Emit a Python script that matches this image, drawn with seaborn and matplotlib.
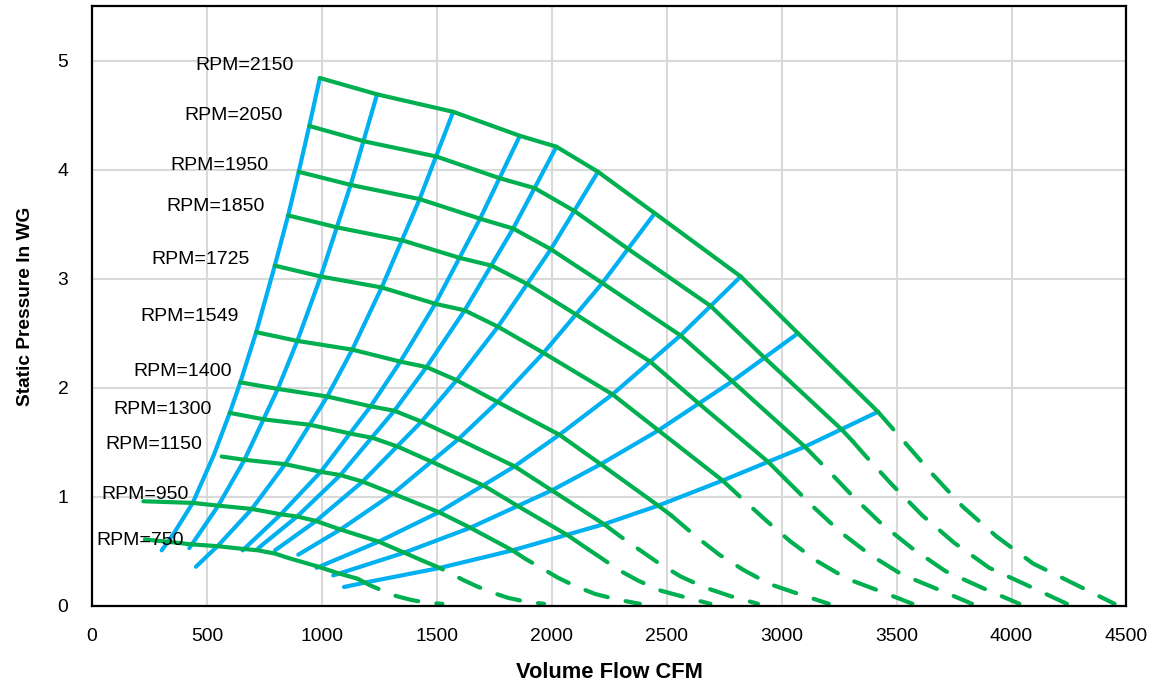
import pandas as pd
import matplotlib
matplotlib.use("Agg")
import matplotlib.pyplot as plt
import seaborn as sns
from matplotlib import font_manager

# fan curves, solid part (CFM / in WG)
cfm_2150 = [991, 1240, 1571, 1861, 2020, 2201, 2448, 2822, 3071, 3419]
wg_2150 = [4.84, 4.69, 4.53, 4.31, 4.21, 3.98, 3.60, 3.02, 2.50, 1.78]
cfm_2050 = [945, 1182, 1498, 1775, 1926, 2099, 2334, 2691, 2928, 3260, 3309]
wg_2050 = [4.40, 4.26, 4.12, 3.92, 3.83, 3.62, 3.27, 2.75, 2.27, 1.62, 1.51]
cfm_1950 = [899, 1125, 1425, 1688, 1832, 1996, 2220, 2560, 2785, 3101]
wg_1950 = [3.98, 3.86, 3.73, 3.55, 3.46, 3.27, 2.96, 2.48, 2.06, 1.46]
cfm_1850 = [853, 1067, 1352, 1601, 1738, 1894, 2107, 2428, 2643, 2942, 3013]
wg_1850 = [3.58, 3.47, 3.35, 3.19, 3.12, 2.95, 2.67, 2.24, 1.85, 1.32, 1.17]
cfm_1725 = [795, 995, 1260, 1493, 1621, 1766, 1964, 2264, 2464, 2743]
wg_1725 = [3.12, 3.02, 2.92, 2.77, 2.71, 2.56, 2.32, 1.94, 1.61, 1.15]
cfm_1549 = [714, 893, 1132, 1341, 1455, 1586, 1764, 2033, 2213, 2463, 2520]
wg_1549 = [2.51, 2.43, 2.35, 2.24, 2.19, 2.07, 1.87, 1.57, 1.30, 0.92, 0.83]
cfm_1400 = [645, 808, 1023, 1212, 1315, 1433, 1594, 1838, 2000, 2227]
wg_1400 = [2.05, 1.99, 1.92, 1.83, 1.79, 1.69, 1.53, 1.28, 1.06, 0.75]
cfm_1300 = [599, 750, 950, 1125, 1222, 1331, 1480, 1707, 1857, 2068, 2158]
wg_1300 = [1.77, 1.71, 1.66, 1.58, 1.54, 1.46, 1.32, 1.10, 0.91, 0.65, 0.52]
cfm_1150 = [564, 663, 840, 995, 1080, 1177, 1309, 1509, 1643, 1829]
wg_1150 = [1.37, 1.34, 1.30, 1.23, 1.20, 1.14, 1.03, 0.86, 0.72, 0.51]
cfm_950 = [223, 438, 548, 694, 822, 893, 973, 1082, 1247, 1357, 1433]
wg_950 = [0.96, 0.945, 0.92, 0.89, 0.84, 0.82, 0.78, 0.70, 0.59, 0.49, 0.42]
cfm_750 = [230, 346, 432, 548, 649, 723, 796, 854, 977, 1071, 1155]
wg_750 = [0.61, 0.585, 0.565, 0.548, 0.525, 0.51, 0.48, 0.44, 0.365, 0.30, 0.25]

# dashed run-out of each fan curve down to zero pressure
cfm_2150_d = [3419, 3527, 3651, 3788, 3933, 4093, 4266, 4448]
wg_2150_d = [1.78, 1.52, 1.22, 0.91, 0.64, 0.39, 0.21, 0.02]
cfm_2050_d = [3309, 3363, 3481, 3612, 3750, 3903, 4068, 4241]
wg_2050_d = [1.51, 1.38, 1.11, 0.83, 0.58, 0.35, 0.19, 0.02]
cfm_1950_d = [3101, 3199, 3312, 3436, 3567, 3712, 3869, 4034]
wg_1950_d = [1.46, 1.25, 1.00, 0.75, 0.53, 0.32, 0.17, 0.02]
cfm_1850_d = [3013, 3142, 3260, 3384, 3522, 3671, 3828]
wg_1850_d = [1.17, 0.90, 0.67, 0.47, 0.29, 0.16, 0.02]
cfm_1725_d = [2743, 2830, 2929, 3039, 3155, 3284, 3423, 3569]
wg_1725_d = [1.15, 0.98, 0.79, 0.59, 0.41, 0.25, 0.14, 0.02]
cfm_1549_d = [2520, 2631, 2729, 2834, 2949, 3074, 3205]
wg_1549_d = [0.83, 0.63, 0.47, 0.33, 0.20, 0.11, 0.02]
cfm_1400_d = [2227, 2297, 2378, 2467, 2561, 2665, 2778, 2897]
wg_1400_d = [0.75, 0.64, 0.52, 0.39, 0.27, 0.17, 0.09, 0.02]
cfm_1300_d = [2158, 2208, 2291, 2378, 2475, 2580, 2690]
wg_1300_d = [0.52, 0.45, 0.33, 0.23, 0.14, 0.08, 0.02]
cfm_1150_d = [1829, 1887, 1953, 2026, 2104, 2189, 2282, 2383]
wg_1150_d = [0.51, 0.43, 0.35, 0.26, 0.18, 0.11, 0.06, 0.02]
cfm_950_d = [1433, 1511, 1559, 1613, 1674, 1738, 1809, 1885, 1966]
wg_950_d = [0.42, 0.35, 0.30, 0.24, 0.18, 0.125, 0.075, 0.04, 0.02]
cfm_750_d = [1155, 1209, 1270, 1325, 1390, 1455, 1524]
wg_750_d = [0.25, 0.19, 0.135, 0.09, 0.055, 0.03, 0.02]

# system curves (blue), bottom to top
sys1_cfm = [303, 354, 438, 530, 599, 645, 714, 795, 853, 899, 945, 991]
sys1_wg = [0.51, 0.66, 0.945, 1.385, 1.77, 2.05, 2.51, 3.12, 3.58, 3.98, 4.40, 4.84]
sys2_cfm = [423, 548, 663, 808, 893, 995, 1125, 1240]
sys2_wg = [0.53, 0.916, 1.34, 1.99, 2.43, 3.02, 3.86, 4.69]
sys3_cfm = [452, 548, 694, 840, 1023, 1132, 1260, 1425, 1571]
sys3_wg = [0.36, 0.553, 0.887, 1.30, 1.92, 2.35, 2.92, 3.73, 4.53]
sys4_cfm = [655, 822, 995, 1212, 1341, 1493, 1688, 1861]
sys4_wg = [0.51, 0.842, 1.23, 1.83, 2.24, 2.77, 3.55, 4.31]
sys5_cfm = [723, 893, 1080, 1315, 1455, 1621, 1832, 2020]
sys5_wg = [0.53, 0.822, 1.20, 1.79, 2.19, 2.71, 3.46, 4.21]
sys6_cfm = [796, 973, 1177, 1433, 1586, 1766, 1996, 2201]
sys6_wg = [0.51, 0.777, 1.14, 1.69, 2.07, 2.56, 3.27, 3.98]
sys7_cfm = [897, 1082, 1309, 1594, 1764, 1964, 2220, 2448]
sys7_wg = [0.47, 0.703, 1.03, 1.53, 1.87, 2.32, 2.96, 3.60]
sys8_cfm = [977, 1247, 1509, 1838, 2033, 2264, 2560, 2822]
sys8_wg = [0.35, 0.59, 0.86, 1.28, 1.57, 1.94, 2.48, 3.02]
sys9_cfm = [1049, 1357, 1643, 2000, 2213, 2464, 2785, 3071]
sys9_wg = [0.28, 0.488, 0.715, 1.06, 1.30, 1.61, 2.06, 2.50]
sys10_cfm = [1096, 1193, 1511, 1829, 2227, 2463, 2743, 3101, 3419]
sys10_wg = [0.174, 0.217, 0.348, 0.51, 0.75, 0.92, 1.15, 1.46, 1.78]

rpms = [2150, 2050, 1950, 1850, 1725, 1549, 1400, 1300, 1150, 950, 750]
# where each RPM label sits (left edge, CFM / in WG)
label_cfm = [448, 401, 342, 322, 260, 212, 179, 93, 60, 42, 20]
label_wg = [4.95, 4.50, 4.04, 3.66, 3.18, 2.65, 2.15, 1.80, 1.48, 1.02, 0.60]

solid = [(cfm_2150, wg_2150), (cfm_2050, wg_2050), (cfm_1950, wg_1950), (cfm_1850, wg_1850),
         (cfm_1725, wg_1725), (cfm_1549, wg_1549), (cfm_1400, wg_1400), (cfm_1300, wg_1300),
         (cfm_1150, wg_1150), (cfm_950, wg_950), (cfm_750, wg_750)]
dashed = [(cfm_2150_d, wg_2150_d), (cfm_2050_d, wg_2050_d), (cfm_1950_d, wg_1950_d),
          (cfm_1850_d, wg_1850_d), (cfm_1725_d, wg_1725_d), (cfm_1549_d, wg_1549_d),
          (cfm_1400_d, wg_1400_d), (cfm_1300_d, wg_1300_d), (cfm_1150_d, wg_1150_d),
          (cfm_950_d, wg_950_d), (cfm_750_d, wg_750_d)]
system = [(sys1_cfm, sys1_wg), (sys2_cfm, sys2_wg), (sys3_cfm, sys3_wg), (sys4_cfm, sys4_wg),
          (sys5_cfm, sys5_wg), (sys6_cfm, sys6_wg), (sys7_cfm, sys7_wg), (sys8_cfm, sys8_wg),
          (sys9_cfm, sys9_wg), (sys10_cfm, sys10_wg)]


def to_frame(curves, ids):
    parts = [pd.DataFrame({"cfm": q, "wg": p, "curve": i}) for (q, p), i in zip(curves, ids)]
    return pd.concat(parts, ignore_index=True)


df_solid = to_frame(solid, rpms)
df_dash = to_frame(dashed, rpms)
df_sys = to_frame(system, range(len(system)))

sns.set_theme(style="whitegrid", rc={"grid.color": "#d9d9d9", "grid.linewidth": 1.5,
                                      "axes.edgecolor": "black", "axes.linewidth": 1.6,
                                      "axes.labelcolor": "black", "text.color": "black"})

# Excel look: narrow Arial-like font if we have it
names = {f.name for f in font_manager.fontManager.ttflist}
if "Liberation Sans Narrow" in names:
    fam, k = "Liberation Sans Narrow", 1.0
else:
    fam, k = "Liberation Sans", 0.84
plt.rcParams["font.family"] = [fam, "DejaVu Sans"]

GREEN = "#00b050"
BLUE = "#00b0f0"

fig = plt.figure(figsize=(11.55, 6.88), dpi=100)
ax = fig.add_axes([0.0797, 0.1192, 0.8956, 0.8721])

sns.lineplot(data=df_sys, x="cfm", y="wg", units="curve", estimator=None, sort=False,
             color=BLUE, linewidth=3.0, solid_capstyle="round", solid_joinstyle="round",
             legend=False, ax=ax)
sns.lineplot(data=df_solid, x="cfm", y="wg", units="curve", estimator=None, sort=False,
             color=GREEN, linewidth=3.0, solid_capstyle="round", solid_joinstyle="round",
             legend=False, ax=ax)
sns.lineplot(data=df_dash, x="cfm", y="wg", units="curve", estimator=None, sort=False,
             color=GREEN, linewidth=3.0, linestyle=(0, (5.6, 4.4)), dash_capstyle="round",
             legend=False, ax=ax)

for r, lx, ly in zip(rpms, label_cfm, label_wg):
    ax.text(lx, ly, f"RPM={r}", ha="left", va="center", fontsize=16.7 * k, color="black")

ax.set_xlim(0, 4500)
ax.set_ylim(0, 5.5)
ax.set_xticks(range(0, 4501, 500))
ax.set_yticks(range(0, 6))
ax.tick_params(axis="both", length=0, labelsize=16.5 * k, colors="black")
ax.tick_params(axis="x", pad=16)
ax.tick_params(axis="y", pad=17)
ax.set_xlabel("Volume Flow CFM", fontsize=18.8 * k, fontweight="bold", labelpad=12)
ax.set_ylabel("Static Pressure In WG", fontsize=16.4 * k, fontweight="bold", labelpad=17)
for s in ax.spines.values():
    s.set_color("black")
    s.set_linewidth(1.6)

fig.savefig("out.png", dpi=100)
